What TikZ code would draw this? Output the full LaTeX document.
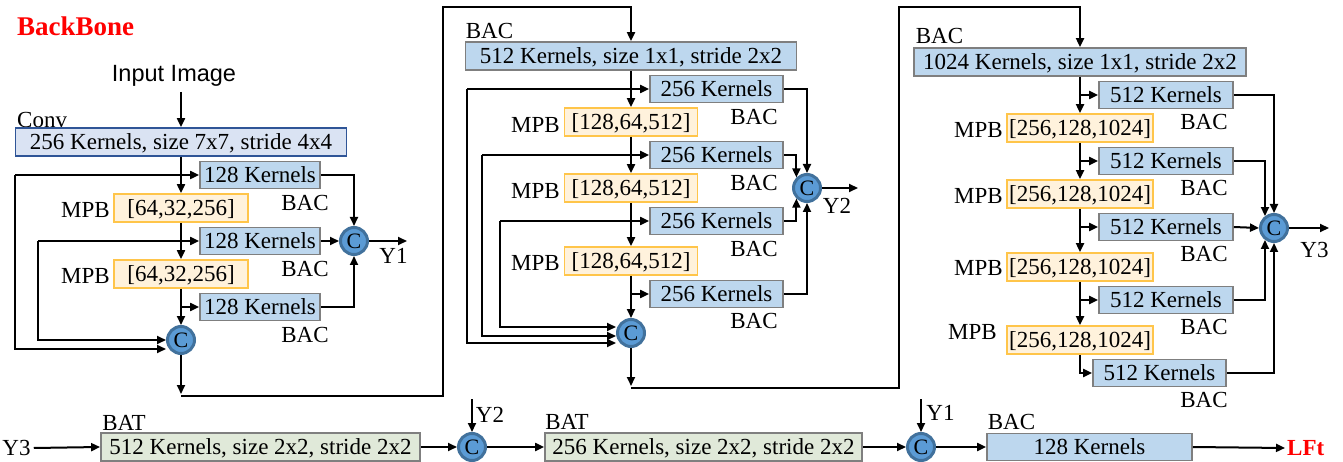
\documentclass[tikz,border=0pt]{standalone}
\usepackage{fontspec}
\setmainfont{Liberation Serif}
\newfontfamily\arialfont{Liberation Sans}
\usetikzlibrary{arrows.meta}

\definecolor{kfill}{HTML}{BDD7EE}
\definecolor{kline}{HTML}{7F7F7F}
\definecolor{convfill}{HTML}{DAE3F3}
\definecolor{convline}{HTML}{2F5597}
\definecolor{mpbfill}{HTML}{FFF2DC}
\definecolor{mpbline}{HTML}{FFC54A}
\definecolor{batfill}{HTML}{E0E9D9}
\definecolor{cfill}{HTML}{5B9BD5}
\definecolor{cline}{HTML}{41719C}

\begin{document}
\begin{tikzpicture}[x=1pt,y=-1pt,
  lab/.style={font=\fontsize{23}{27}\selectfont, inner sep=0pt, text height=15.2pt, text depth=0pt},
  kbox/.style={lab, draw=kline, fill=kfill, line width=1.8pt, minimum height=27pt},
  convbox/.style={lab, draw=convline, fill=convfill, line width=1.8pt, minimum height=28pt},
  mpbbox/.style={lab, draw=mpbline, fill=mpbfill, line width=1.8pt, minimum height=28pt},
  batbox/.style={lab, draw=kline, fill=batfill, line width=1.8pt, minimum height=28pt},
  cat/.style={circle, draw=cline, fill=cfill, line width=3pt, minimum size=27pt, inner sep=0pt,
    font=\fontsize{22}{22}\selectfont, text height=14.6pt, text depth=0pt},
  link/.style={line width=2pt},
  arr/.style={line width=2pt, -{Triangle[length=9pt,width=8pt]}},
]
\useasboundingbox (0,0) rectangle (1343,462);

% ---------- stage 1 ----------
\node[lab, text=red, font=\fontsize{27}{30}\selectfont\bfseries, text height=17.9pt, anchor=west] (title) at (17,27) {BackBone};
\node[lab, font=\arialfont\fontsize{23.5}{28}\selectfont, text height=16.8pt] (input) at (174,73.5) {Input Image};
\node[lab, anchor=south west] (convlab) at (17,128) {Conv};
\node[convbox, minimum width=331pt] (conv) at (181,142) {256 Kernels, size 7x7, stride 4x4};

\node[kbox, minimum width=120pt] (a1) at (260,175) {128 Kernels};
\node[kbox, minimum width=120pt] (a2) at (260,241) {128 Kernels};
\node[kbox, minimum width=120pt] (a3) at (260,307) {128 Kernels};
\node[mpbbox, minimum width=134pt] (ap1) at (181,208) {[64,32,256]};
\node[mpbbox, minimum width=134pt] (ap2) at (181,274) {[64,32,256]};
\node[lab, anchor=east] (apl1) at (110,210) {MPB};
\node[lab, anchor=east] (apl2) at (110,276) {MPB};
\node[lab] (ab1) at (305,203) {BAC};
\node[lab] (ab2) at (305,269) {BAC};
\node[lab] (ab3) at (305,335) {BAC};
\node[cat] (ac) at (354,241) {C};
\node[cat] (al) at (181,340) {C};
\node[lab] (y1lab) at (393.5,256) {Y1};

\coordinate (inTop) at (181,92);
\coordinate (aL1) at (15,175);
\coordinate (aL2) at (38,241);
\coordinate (y1out) at (407,241);
\coordinate (aBot) at (181,396);
\coordinate (hop1) at (443,7);

\draw[arr] (inTop) -- (conv.north);
\draw[arr] (conv.south) -- (ap1.north);
\draw[arr] (ap1.south) -- (ap2.north);
\draw[arr] (ap2.south) -- (al.north);
\draw[arr] (aL1) -- (a1.west);
\draw[arr] (aL1) |- ([yshift=-9pt]al.west);
\draw[arr] (aL2) -- (a2.west);
\draw[arr] (aL2) |- (al.west);
\draw[arr] (a3.west -| ap2.south) -- (a3.west);
\draw[arr] (a1.east) -| (ac.north);
\draw[arr] (a2.east) -- (ac.west);
\draw[arr] (a3.east) -| (ac.south);
\draw[arr] (ac.east) -- (y1out);
\draw[arr] (al.south) -- ([yshift=2pt]aBot);

% ---------- stage 2 ----------
\node[lab] (bbac) at (489.5,31) {BAC};
\node[kbox, minimum width=331pt, minimum height=28pt] (b0) at (631,56) {512 Kernels, size 1x1, stride 2x2};
\node[kbox, minimum width=133pt] (b1) at (716.5,89) {256 Kernels};
\node[kbox, minimum width=133pt] (b2) at (716.5,155) {256 Kernels};
\node[kbox, minimum width=133pt] (b3) at (716.5,221) {256 Kernels};
\node[kbox, minimum width=133pt] (b4) at (716.5,294) {256 Kernels};
\node[mpbbox, minimum width=133pt] (bp1) at (631,122) {[128,64,512]};
\node[mpbbox, minimum width=133pt] (bp2) at (631,188) {[128,64,512]};
\node[mpbbox, minimum width=133pt] (bp3) at (631,261) {[128,64,512]};
\node[lab, anchor=east] (bpl1) at (560,125) {MPB};
\node[lab, anchor=east] (bpl2) at (560,191) {MPB};
\node[lab, anchor=east] (bpl3) at (560,263) {MPB};
\node[lab] (bb1) at (754,117) {BAC};
\node[lab] (bb2) at (754,183) {BAC};
\node[lab] (bb3) at (754,249) {BAC};
\node[lab] (bb4) at (754,321) {BAC};
\node[cat] (bc) at (807,188) {C};
\node[cat] (bl) at (631,333) {C};
\node[lab] (y2lab) at (837,206) {Y2};

\coordinate (bL1) at (467,89);
\coordinate (bL2) at (482,155);
\coordinate (bL3) at (500,221);
\coordinate (y2out) at (858,188);
\coordinate (bBot) at (631,388);
\coordinate (hop2) at (899,7);

\draw[arr] (aBot) -| (hop1) -| (b0.north);
\draw[arr] (b0.south) -- (bp1.north);
\draw[arr] (bp1.south) -- (bp2.north);
\draw[arr] (bp2.south) -- (bp3.north);
\draw[arr] (bp3.south) -- (bl.north);
\draw[arr] (bL1) -- (b1.west);
\draw[arr] (bL1) |- ([yshift=-10pt]bl.west);
\draw[arr] (bL2) -- (b2.west);
\draw[arr] (bL2) |- ([yshift=-3pt]bl.west);
\draw[arr] (bL3) -- (b3.west);
\draw[arr] (bL3) |- ([yshift=6pt]bl.west);
\draw[arr] (b4.west -| bp3.south) -- (b4.west);
\draw[arr] (b1.east) -| (bc.north);
\draw[arr] (b2.east) -| (bc.135);
\draw[arr] (b3.east) -| (bc.225);
\draw[arr] (b4.east) -| (bc.south);
\draw[arr] (bc.east) -- (y2out);
\draw[arr] (bl.south) -- ([yshift=2pt]bBot);

% ---------- stage 3 ----------
\node[lab] (cbac) at (939.5,36) {BAC};
\node[kbox, minimum width=332pt, minimum height=28pt] (c0) at (1080,62) {1024 Kernels, size 1x1, stride 2x2};
\node[kbox, minimum width=134pt] (c1) at (1166,95) {512 Kernels};
\node[kbox, minimum width=134pt] (c2) at (1166,161) {512 Kernels};
\node[kbox, minimum width=134pt] (c3) at (1166,227) {512 Kernels};
\node[kbox, minimum width=134pt] (c4) at (1166,300) {512 Kernels};
\node[kbox, minimum width=133pt] (c5) at (1159.5,373) {512 Kernels};
\node[mpbbox, minimum width=146pt] (cp1) at (1080,128) {[256,128,1024]};
\node[mpbbox, minimum width=146pt] (cp2) at (1080,194) {[256,128,1024]};
\node[mpbbox, minimum width=146pt] (cp3) at (1080,267) {[256,128,1024]};
\node[mpbbox, minimum width=146pt] (cp4) at (1080,340) {[256,128,1024]};
\node[lab, anchor=east] (cpl1) at (1003,130) {MPB};
\node[lab, anchor=east] (cpl2) at (1003,196) {MPB};
\node[lab, anchor=east] (cpl3) at (1003,268) {MPB};
\node[lab, anchor=east] (cpl4) at (997,332) {MPB};
\node[lab] (cb1) at (1204,122) {BAC};
\node[lab] (cb2) at (1204,188) {BAC};
\node[lab] (cb3) at (1204,254) {BAC};
\node[lab] (cb4) at (1204,327) {BAC};
\node[lab] (cb5) at (1204,400) {BAC};
\node[cat] (cc) at (1274,228) {C};
\node[lab] (y3lab) at (1314.5,250) {Y3};

\coordinate (y3out) at (1329,228);

\draw[arr] (bBot) -| (hop2) -| (c0.north);
\draw[arr] (c0.south) -- (cp1.north);
\draw[arr] (cp1.south) -- (cp2.north);
\draw[arr] (cp2.south) -- (cp3.north);
\draw[arr] (cp3.south) -- (cp4.north);
\draw[arr] (c1.west -| c0.south) -- (c1.west);
\draw[arr] (c2.west -| cp1.south) -- (c2.west);
\draw[arr] (c3.west -| cp2.south) -- (c3.west);
\draw[arr] (c4.west -| cp3.south) -- (c4.west);
\draw[arr] (cp4.south) |- (c5.west);
\draw[arr] (c1.east) -| (cc.north);
\draw[arr] (c2.east) -| (cc.127);
\draw[arr] (c3.east) -- (cc.west);
\draw[arr] (c4.east) -| (cc.233);
\draw[arr] (c5.east) -| (cc.south);
\draw[arr] (cc.east) -- (y3out);

% ---------- neck ----------
\node[lab] (y3in) at (16.5,448) {Y3};
\node[lab] (t1lab) at (124,423) {BAT};
\node[batbox, minimum width=319pt] (t1) at (260.5,447) {512 Kernels, size 2x2, stride 2x2};
\node[cat] (d1) at (472,447) {C};
\node[lab] (y2in) at (490,415) {Y2};
\node[lab] (t2lab) at (567,422) {BAT};
\node[batbox, minimum width=317pt] (t2) at (703.5,447) {256 Kernels, size 2x2, stride 2x2};
\node[cat] (d2) at (921,447) {C};
\node[lab] (y1in) at (940.5,413) {Y1};
\node[lab] (klab) at (1011.5,422) {BAC};
\node[kbox, minimum width=205pt] (k) at (1089.5,447) {128 Kernels};
\node[lab, anchor=west, text=red, font=\fontsize{23}{27}\selectfont\bfseries] (lft) at (1287,448) {LFt};

\coordinate (y2top) at (472,399);
\coordinate (y1top) at (921,399);

\draw[arr] ([xshift=3pt]y3in.east) -- (t1.west);
\draw[arr] (t1.east) -- (d1.west);
\draw[arr] (y2top) -- (d1.north);
\draw[arr] (d1.east) -- (t2.west);
\draw[arr] (t2.east) -- (d2.west);
\draw[arr] (y1top) -- (d2.north);
\draw[arr] (d2.east) -- (k.west);
\draw[arr] (k.east) -- ([xshift=-2pt]lft.west);
\end{tikzpicture}
\end{document}
